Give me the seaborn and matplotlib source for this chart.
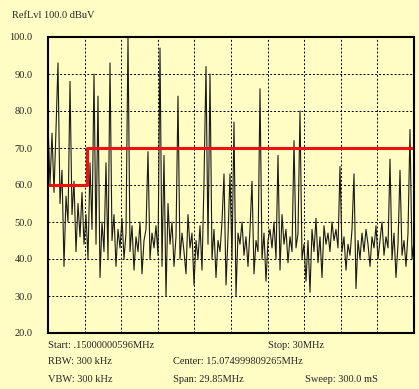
import numpy as np
import pandas as pd
import seaborn as sns
import matplotlib.pyplot as plt

# spectrum trace, dBuV, one reading per sweep step (0.15 .. 30 MHz)
level = [
    77, 60, 74, 58, 75, 93, 55, 64, 38, 57, 50, 88, 52, 61, 42, 55, 46, 58, 44, 52,
    40, 66, 48, 90, 44, 84, 35, 50, 42, 66, 40, 93, 45, 52, 38, 48, 43, 51, 40, 47,
    100, 42, 49, 37, 46, 42, 50, 36, 45, 48, 69, 40, 47, 43, 49, 41, 97, 38, 68, 30,
    55, 44, 50, 38, 46, 84, 40, 47, 42, 36, 52, 43, 47, 33, 45, 40, 49, 37, 61, 92,
    44, 90, 40, 48, 35, 45, 42, 50, 63, 33, 46, 63, 40, 77, 30, 47, 44, 50, 41, 46,
    38, 48, 61, 36, 45, 42, 86, 40, 47, 34, 45, 48, 43, 50, 40, 68, 37, 52, 44, 48,
    39, 46, 42, 72, 43, 47, 80, 40, 44, 34, 45, 31, 48, 42, 51, 39, 46, 35, 49, 44,
    47, 42, 50, 45, 48, 43, 65, 42, 46, 37, 44, 41, 48, 63, 32, 45, 40, 47, 42, 48,
    44, 38, 46, 43, 49, 40, 45, 50, 41, 46, 43, 67, 40, 47, 35, 44, 64, 41, 45, 38,
    47, 75, 40, 45,
]
start_mhz = 0.15
stop_mhz = 30.0
freq = np.linspace(start_mhz, stop_mhz, len(level))

# limit line
limit_freq = [0.15, 3.3, 3.3, 30.0]
limit_level = [60, 60, 70, 70]

y_ticks = [20, 30, 40, 50, 60, 70, 80, 90, 100]

bg = "#fffcc4"
sns.set_style("white")
plt.rcParams["font.family"] = ["Liberation Serif", "DejaVu Serif"]

fig = plt.figure(figsize=(4.19, 3.89), dpi=100, facecolor=bg)
ax = fig.add_axes([48 / 419, 56 / 389, 366 / 419, 296 / 389])
ax.set_facecolor(bg)

trace = pd.DataFrame({"freq": freq, "level": level})
sns.lineplot(data=trace, x="freq", y="level", estimator=None, sort=False,
             color="#1a1a1a", linewidth=0.8, ax=ax)
sns.lineplot(x=limit_freq, y=limit_level, estimator=None, sort=False,
             color="#ee1111", linewidth=2.2, ax=ax)

ax.set_xlim(start_mhz, stop_mhz)
ax.set_ylim(20, 100)
ax.set_xticks(np.linspace(start_mhz, stop_mhz, 11))
ax.set_xticklabels([])
ax.set_yticks(y_ticks)
ax.set_yticklabels([f"{v:.1f}" for v in y_ticks], fontsize=7.5)
ax.tick_params(length=0, pad=11)
ax.set_xlabel("")
ax.set_ylabel("")
ax.grid(True, color="black", linestyle=(0, (2, 2)), linewidth=0.7)
ax.set_axisbelow(True)
for s in ax.spines.values():
    s.set_color("black")
    s.set_linewidth(1.5)

fig.text(12 / 419, 1 - 16 / 389, "RefLvl 100.0 dBuV", fontsize=7.5, va="center")
rows = [
    (48, 345, "Start: .15000000596MHz"), (268, 345, "Stop: 30MHz"),
    (48, 362, "RBW: 300 kHz"), (173, 362, "Center: 15.074999809265MHz"),
    (48, 380, "VBW: 300 kHz"), (173, 380, "Span: 29.85MHz"),
    (305, 380, "Sweep: 300.0 mS"),
]
for x, y, t in rows:
    fig.text(x / 419, 1 - y / 389, t, fontsize=7.5, va="center")

fig.savefig("out.png", dpi=100, facecolor=bg)
